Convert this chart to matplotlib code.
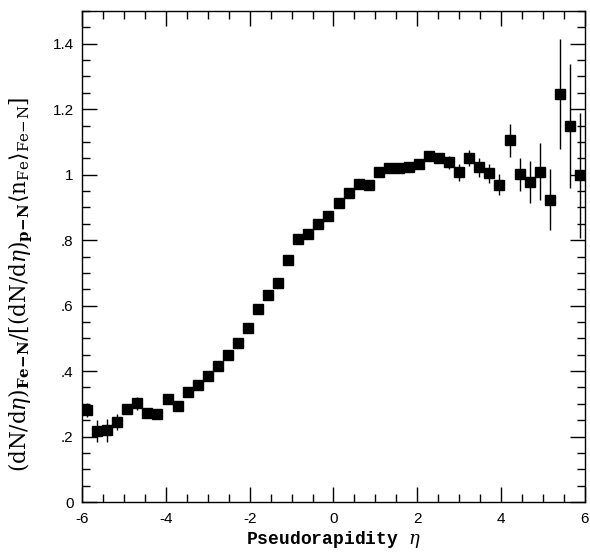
import numpy as np
import matplotlib
matplotlib.use('Agg')
import matplotlib.pyplot as plt
import matplotlib.ticker as tck

# DATA
eta = [-5.88, -5.64, -5.40, -5.16, -4.92, -4.68, -4.44, -4.20, -3.96, -3.72,
       -3.48, -3.24, -3.00, -2.76, -2.52, -2.28, -2.04, -1.80, -1.56, -1.32,
       -1.08, -0.84, -0.60, -0.36, -0.12, 0.12, 0.36, 0.60, 0.84, 1.08,
       1.32, 1.56, 1.80, 2.04, 2.28, 2.52, 2.76, 3.00, 3.24, 3.48,
       3.72, 3.96, 4.20, 4.44, 4.68, 4.92, 5.16, 5.40, 5.64, 5.88]
ratio = [0.281, 0.217, 0.219, 0.245, 0.285, 0.301, 0.273, 0.268, 0.314, 0.294,
         0.335, 0.358, 0.384, 0.415, 0.449, 0.486, 0.533, 0.589, 0.632, 0.670,
         0.739, 0.805, 0.818, 0.849, 0.875, 0.912, 0.944, 0.973, 0.969, 1.007,
         1.019, 1.021, 1.024, 1.034, 1.056, 1.052, 1.038, 1.007, 1.051, 1.022,
         1.004, 0.970, 1.105, 1.001, 0.978, 1.009, 0.924, 1.248, 1.149, 0.998]
err = [0.020, 0.035, 0.035, 0.025, 0.015, 0.020, 0.012, 0.012, 0.012, 0.012,
       0.012, 0.012, 0.012, 0.012, 0.012, 0.012, 0.012, 0.012, 0.012, 0.012,
       0.012, 0.012, 0.015, 0.012, 0.012, 0.012, 0.012, 0.012, 0.012, 0.012,
       0.012, 0.012, 0.012, 0.012, 0.015, 0.015, 0.020, 0.025, 0.025, 0.028,
       0.030, 0.032, 0.050, 0.050, 0.065, 0.087, 0.092, 0.168, 0.190, 0.190]

yticks = [0, 0.2, 0.4, 0.6, 0.8, 1.0, 1.2, 1.4]
xticks = [-6, -4, -2, 0, 2, 4, 6]


def ylab(v, pos):
    s = ('%.1f' % v).rstrip('0').rstrip('.')
    if s.startswith('0.'):
        s = s[1:]
    return s


def xlab(v, pos):
    return '%d' % v


# setup the figure
plt.rcParams['mathtext.fontset'] = 'dejavuserif'
fig = plt.figure(figsize=(5.9, 5.57), dpi=100)
ax = fig.add_axes([0.139, 0.0987, 0.8525, 0.8815])

ax.errorbar(eta, ratio, yerr=err, fmt='s', color='black', ms=7,
            elinewidth=1.0, capsize=0)

ax.set_xlim(-6, 6)
ax.set_ylim(0, 1.5)
ax.set_xticks(xticks)
ax.set_yticks(yticks)
ax.xaxis.set_minor_locator(tck.MultipleLocator(0.5))
ax.yaxis.set_minor_locator(tck.MultipleLocator(0.05))
ax.xaxis.set_major_formatter(tck.FuncFormatter(xlab))
ax.yaxis.set_major_formatter(tck.FuncFormatter(ylab))
ax.tick_params(which='both', direction='in', top=True, right=True,
               width=1.0, labelsize=11)
ax.tick_params(which='major', length=11)
ax.tick_params(which='minor', length=5.5)
for lbl in ax.get_xticklabels() + ax.get_yticklabels():
    lbl.set_family('Liberation Sans')
ax.tick_params(axis='x', pad=7)
ax.tick_params(axis='y', pad=6)
for sp in ax.spines.values():
    sp.set_linewidth(1.0)

ax.set_xlabel(r'Pseudorapidity $\eta$', family='Liberation Mono',
              weight='bold', fontsize=13, labelpad=2)
fig.text(0.036, 1 - 284 / 557.,
         r'$(\mathrm{dN/d}\eta)_{\mathsf{\bf Fe\!-\!N}}/[(\mathrm{dN/d}\eta)_{\mathsf{\bf p\!-\!N}}'
         r'\langle \mathrm{n}_{\mathrm{Fe}}\rangle_{\mathrm{Fe\!-\!N}}]$',
         rotation=90, ha='center', va='center', fontsize=15.5)

fig.savefig('out.png', dpi=100)
